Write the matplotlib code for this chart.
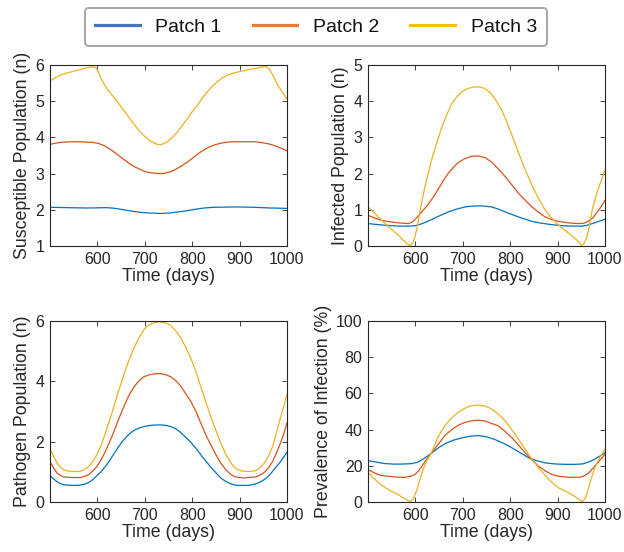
#!/usr/bin/env python3
"""
Three-patch epidemic model: susceptible, infected, pathogen and prevalence
over days 500-1000.
"""

import matplotlib.pyplot as plt
from matplotlib.lines import Line2D

plt.rcParams['font.family'] = ['Liberation Sans', 'DejaVu Sans']
plt.rcParams['axes.linewidth'] = 0.8
plt.rcParams['axes.edgecolor'] = '#262626'
plt.rcParams['xtick.color'] = '#262626'
plt.rcParams['ytick.color'] = '#262626'

# ----------------------------------------------------------------------------
# Data (time in days)
# ----------------------------------------------------------------------------
# Susceptible population
t_sus1 = [500, 536, 578, 620, 638, 656, 674, 691, 712, 733, 751, 769, 787, 804,
          825, 846, 889, 931, 966, 1000]
sus1 = [2.07, 2.06, 2.05, 2.06, 2.04, 2.00, 1.96, 1.93, 1.91, 1.90, 1.91, 1.94, 1.97, 2.01,
        2.05, 2.07, 2.08, 2.07, 2.05, 2.04]
t_sus2 = [500, 515, 529, 546, 564, 578, 592, 603, 613, 624, 635, 645, 656, 666, 677,
          688, 698, 708, 715, 724, 733, 741, 748, 755, 761, 775, 790, 804, 818, 832,
          846, 860, 874, 888, 903, 917, 931, 945, 959, 970, 980, 990, 1000]
sus2 = [3.81, 3.85, 3.87, 3.88, 3.88, 3.87, 3.86, 3.83, 3.78, 3.70, 3.60, 3.50, 3.39, 3.29, 3.20,
        3.13, 3.07, 3.03, 3.02, 3.01, 3.00, 3.01, 3.03, 3.06, 3.09, 3.19, 3.32, 3.46, 3.60, 3.71,
        3.79, 3.84, 3.87, 3.88, 3.88, 3.88, 3.88, 3.86, 3.83, 3.79, 3.74, 3.69, 3.63]
t_sus3 = [500, 511, 522, 536, 550, 560, 571, 578, 585, 590, 596, 601, 606, 613, 620,
          631, 642, 652, 663, 673, 684, 694, 705, 712, 719, 726, 733, 740, 748, 758,
          769, 779, 790, 800, 811, 821, 832, 842, 853, 863, 874, 888, 903, 917, 931,
          942, 952, 956, 959, 963, 968, 974, 980, 990, 1000]
sus3 = [5.56, 5.65, 5.72, 5.78, 5.83, 5.86, 5.90, 5.92, 5.94, 5.95, 5.93, 5.85, 5.68, 5.50, 5.35,
        5.17, 4.99, 4.81, 4.62, 4.44, 4.25, 4.10, 3.97, 3.90, 3.85, 3.81, 3.80, 3.83, 3.88, 4.00,
        4.15, 4.33, 4.52, 4.71, 4.89, 5.08, 5.26, 5.41, 5.54, 5.64, 5.72, 5.78, 5.83, 5.87, 5.90,
        5.93, 5.95, 5.95, 5.93, 5.88, 5.77, 5.62, 5.45, 5.26, 5.06]

# Infected population
t_inf1 = [500, 530, 564, 585, 599, 615, 634, 650, 669, 687, 705, 719, 733, 747, 761,
          775, 790, 804, 818, 832, 846, 866, 888, 910, 931, 950, 962, 980, 1000]
inf1 = [0.62, 0.58, 0.55, 0.55, 0.56, 0.62, 0.73, 0.83, 0.94, 1.02, 1.08, 1.10, 1.11, 1.10, 1.08,
        1.02, 0.94, 0.87, 0.80, 0.74, 0.68, 0.63, 0.59, 0.56, 0.55, 0.55, 0.57, 0.65, 0.74]
t_inf2 = [500, 515, 529, 546, 564, 585, 592, 599, 606, 613, 624, 634, 643, 652, 660,
          669, 680, 690, 705, 719, 733, 747, 761, 775, 790, 804, 818, 832, 846, 860,
          874, 888, 903, 917, 931, 945, 955, 963, 973, 987, 1000]
inf2 = [0.85, 0.77, 0.71, 0.67, 0.64, 0.62, 0.65, 0.73, 0.83, 0.94, 1.10, 1.28, 1.46, 1.65, 1.83,
        2.00, 2.17, 2.30, 2.42, 2.48, 2.49, 2.44, 2.32, 2.13, 1.91, 1.68, 1.45, 1.26, 1.08, 0.93,
        0.80, 0.73, 0.68, 0.65, 0.63, 0.62, 0.63, 0.67, 0.76, 0.99, 1.26]
t_inf3 = [500, 515, 529, 546, 564, 576, 585, 590, 595, 599, 605, 610, 620, 627, 634,
          645, 656, 667, 677, 688, 698, 710, 722, 733, 745, 755, 765, 775, 783, 790,
          804, 818, 832, 846, 860, 874, 888, 903, 917, 931, 941, 950, 955, 962, 967,
          973, 980, 987, 1000]
inf3 = [1.08, 0.90, 0.71, 0.50, 0.30, 0.14, 0.04, 0.02, 0.10, 0.25, 0.60, 0.99, 1.63, 2.00, 2.37,
        2.85, 3.29, 3.65, 3.94, 4.13, 4.26, 4.35, 4.39, 4.40, 4.36, 4.27, 4.12, 3.92, 3.73, 3.52,
        3.05, 2.56, 2.10, 1.68, 1.31, 0.99, 0.76, 0.57, 0.42, 0.28, 0.16, 0.02, 0.05, 0.25, 0.55,
        0.99, 1.33, 1.63, 2.09]

# Pathogen population
t_path = [500, 508, 515, 522, 529, 538, 547, 556, 564, 573, 582, 590, 599, 608, 617,
          626, 635, 645, 656, 666, 677, 688, 698, 708, 719, 726, 733, 744, 755, 765,
          776, 786, 797, 808, 818, 828, 839, 850, 860, 871, 882, 890, 899, 908, 917,
          926, 934, 943, 952, 961, 970, 978, 987, 994, 1000]
path1 = [0.87, 0.76, 0.67, 0.61, 0.57, 0.56, 0.55, 0.55, 0.56, 0.59, 0.65, 0.74, 0.87, 1.01, 1.18,
         1.38, 1.60, 1.84, 2.07, 2.24, 2.37, 2.45, 2.50, 2.53, 2.55, 2.555, 2.555, 2.54, 2.50, 2.43,
         2.30, 2.15, 1.98, 1.78, 1.57, 1.37, 1.16, 0.97, 0.80, 0.68, 0.60, 0.56, 0.55, 0.55, 0.55,
         0.57, 0.60, 0.66, 0.74, 0.86, 1.02, 1.18, 1.35, 1.51, 1.65]
path2 = [1.33, 1.12, 0.96, 0.88, 0.83, 0.82, 0.81, 0.81, 0.81, 0.85, 0.91, 1.02, 1.18, 1.40, 1.68,
         2.00, 2.34, 2.75, 3.17, 3.52, 3.81, 4.02, 4.15, 4.21, 4.245, 4.255, 4.255, 4.22, 4.15, 4.03,
         3.84, 3.60, 3.34, 3.00, 2.62, 2.25, 1.90, 1.57, 1.29, 1.07, 0.91, 0.84, 0.81, 0.80, 0.81,
         0.82, 0.83, 0.89, 0.98, 1.13, 1.35, 1.63, 1.98, 2.30, 2.62]
path3 = [1.76, 1.50, 1.29, 1.16, 1.07, 1.03, 1.01, 1.01, 1.02, 1.07, 1.18, 1.33, 1.57, 1.88, 2.29,
         2.72, 3.17, 3.70, 4.22, 4.68, 5.10, 5.45, 5.71, 5.86, 5.94, 5.965, 5.97, 5.94, 5.85, 5.68,
         5.44, 5.14, 4.77, 4.32, 3.83, 3.35, 2.84, 2.38, 1.96, 1.58, 1.29, 1.13, 1.05, 1.02, 1.01,
         1.02, 1.04, 1.13, 1.29, 1.52, 1.85, 2.30, 2.84, 3.22, 3.56]

# Prevalence of infection (%)
t_prev1 = [500, 518, 536, 557, 578, 592, 606, 620, 633, 648, 663, 682, 701, 717, 733,
           750, 768, 786, 804, 822, 839, 856, 874, 895, 917, 935, 952, 965, 977, 990, 1000]
prev1 = [22.9, 22.0, 21.2, 20.9, 21.0, 21.2, 22.1, 24.3, 26.8, 29.8, 32.3, 34.3, 35.6, 36.4, 36.7,
         36.0, 34.5, 32.4, 29.9, 27.1, 24.4, 22.8, 21.6, 21.0, 20.8, 20.8, 21.0, 22.0, 23.4, 25.5, 27.1]
t_prev2 = [500, 511, 522, 536, 550, 564, 578, 592, 599, 606, 613, 620, 633, 648, 663,
           677, 691, 705, 719, 733, 747, 761, 776, 790, 804, 818, 832, 846, 860, 875,
           889, 903, 917, 932, 948, 957, 966, 976, 987, 1000]
prev2 = [17.9, 16.4, 15.1, 14.4, 14.0, 13.7, 13.6, 14.4, 15.2, 17.0, 19.4, 22.2, 26.8, 31.8, 37.0,
         40.0, 42.5, 44.0, 44.9, 45.2, 44.7, 43.4, 41.9, 38.8, 35.4, 31.3, 27.1, 23.2, 19.7, 17.0,
         15.1, 14.2, 13.8, 13.6, 13.7, 14.6, 16.1, 19.0, 22.5, 26.2]
t_prev3 = [500, 508, 515, 525, 536, 546, 557, 566, 575, 583, 590, 595, 603, 610, 617,
           624, 633, 641, 648, 655, 662, 672, 683, 693, 701, 712, 726, 737, 747, 758,
           768, 779, 790, 804, 818, 829, 839, 850, 860, 871, 882, 892, 903, 914, 924,
           933, 941, 946, 951, 956, 960, 964, 971, 978, 985, 994, 1000]
prev3 = [16.4, 14.3, 12.4, 10.0, 8.0, 6.4, 5.0, 3.7, 2.2, 0.9, 0.2, 1.5, 6.5, 12.9, 18.5,
         22.7, 26.8, 31.5, 36.0, 39.1, 41.9, 45.2, 48.0, 50.0, 51.2, 52.8, 53.5, 53.4, 53.0, 51.8,
         50.0, 47.6, 44.6, 39.7, 34.5, 30.3, 26.2, 22.4, 18.8, 15.5, 12.4, 9.9, 7.7, 6.3, 5.0,
         3.6, 2.2, 1.2, 0.3, 1.0, 3.0, 6.5, 12.9, 18.5, 22.7, 26.8, 29.0]

patch_labels = ['Patch 1', 'Patch 2', 'Patch 3']
line_colors = ['#0072BD', '#D95319', '#EDB120']
legend_colors = ['#4472C4', '#ED7D31', '#FFC000']

panels = [
    # (position, series, ylabel, ylim, yticks)
    ([0.0801, 0.5543, 0.3798, 0.3279],
     [(t_sus1, sus1), (t_sus2, sus2), (t_sus3, sus3)],
     'Susceptible Population (n)', (1, 6), [1, 2, 3, 4, 5, 6]),
    ([0.5897, 0.5543, 0.3798, 0.3279],
     [(t_inf1, inf1), (t_inf2, inf2), (t_inf3, inf3)],
     'Infected Population (n)', (0, 5), [0, 1, 2, 3, 4, 5]),
    ([0.0801, 0.0906, 0.3798, 0.3279],
     [(t_path, path1), (t_path, path2), (t_path, path3)],
     'Pathogen Population (n)', (0, 6), [0, 2, 4, 6]),
    ([0.5897, 0.0906, 0.3798, 0.3279],
     [(t_prev1, prev1), (t_prev2, prev2), (t_prev3, prev3)],
     'Prevalence of Infection (%)', (0, 100), [0, 20, 40, 60, 80, 100]),
]

fig = plt.figure(figsize=(6.24, 5.52), dpi=100)

for pos, series, ylabel, ylim, yticks in panels:
    ax = fig.add_axes(pos)
    for (t, y), c in zip(series, line_colors):
        ax.plot(t, y, color=c, linewidth=0.9)
    ax.set_xlim(500, 1000)
    ax.set_ylim(*ylim)
    ax.set_xticks([600, 700, 800, 900, 1000])
    ax.set_yticks(yticks)
    ax.tick_params(direction='in', top=True, right=True, length=3.5,
                   width=0.6, labelsize=11.5, pad=4)
    ax.set_xlabel('Time (days)', fontsize=12.8, color='#262626', labelpad=1)
    ax.set_ylabel(ylabel, fontsize=12.8, color='#262626', labelpad=3)

# Legend across the top of the figure
handles = [Line2D([0], [0], color=c, linewidth=2.3) for c in legend_colors]
leg = fig.legend(handles, patch_labels, loc='center', bbox_to_anchor=(0.5064, 0.951),
                 ncol=3, fontsize=14, frameon=True, fancybox=True,
                 handlelength=2.3, handletextpad=0.8, columnspacing=1.6,
                 borderpad=0.53, labelcolor='#111111')
leg.get_frame().set_edgecolor('#a6a6a6')
leg.get_frame().set_linewidth(1.4)
leg.get_frame().set_alpha(1.0)

fig.savefig('out.png', dpi=100)
